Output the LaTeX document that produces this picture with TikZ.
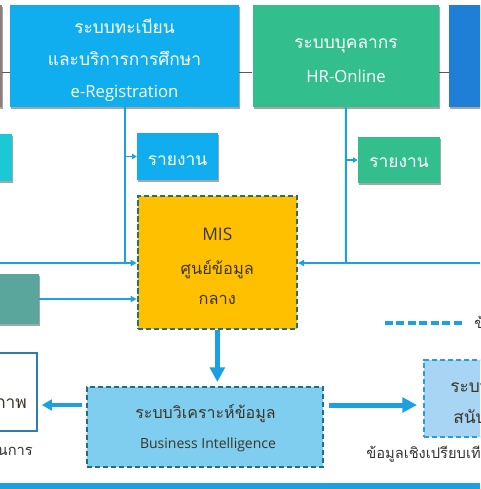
\documentclass[tikz,border=0pt]{standalone}
\usepackage{fontspec}
\setmainfont{Open Sans}
\newfontfamily\thai[Script=Thai]{Loma}
\usetikzlibrary{arrows.meta,shadows,fit}
\definecolor{regblue}{HTML}{10AEEF}
\definecolor{hrgreen}{HTML}{33BE8E}
\definecolor{topblue}{HTML}{1F7ED6}
\definecolor{mauve}{HTML}{8E7F7D}
\definecolor{cyanbox}{HTML}{1DC8D6}
\definecolor{tealbox}{HTML}{5AA69C}
\definecolor{misorange}{HTML}{FFC000}
\definecolor{dkteal}{HTML}{1F6E8C}
\definecolor{biblue}{HTML}{7FCDEF}
\definecolor{dssblue}{HTML}{A9D5F5}
\definecolor{dssborder}{HTML}{2A9FD8}
\definecolor{lineblue}{HTML}{1BA1E2}
\definecolor{wboxborder}{HTML}{2B7FA8}
\definecolor{darktext}{HTML}{3C3526}
\definecolor{greytext}{HTML}{333333}
\begin{document}
\begin{tikzpicture}[x=0.75pt,y=-0.75pt,
  box/.style={inner sep=0pt},
  shd/.style={drop shadow={shadow xshift=1pt,shadow yshift=-1.2pt,fill=black,opacity=0.35}},
  dbox/.style={inner sep=0pt,line width=1.5pt,dash pattern=on 4pt off 2pt},
  conn/.style={draw=lineblue,line width=1.5pt},
  arr/.style={conn,-{Triangle[length=4.5pt,width=4.5pt]}},
  smallarr/.style={draw=lineblue,line width=1pt,-{Triangle[length=3.5pt,width=4pt]}},
  bigarr/.style={draw=lineblue,line width=3.75pt,-{Triangle[length=11pt,width=11pt]}},
  medarr/.style={draw=lineblue,line width=3pt,-{Triangle[length=7.5pt,width=8pt]}},
  gline/.style={draw=gray!70!black,line width=0.6pt},
  legendline/.style={draw=lineblue,line width=3pt,dash pattern=on 6pt off 2.6pt},
  thbig/.style={font={\thai\fontsize{13pt}{15pt}\selectfont},anchor=base,inner sep=0pt},
  thmis/.style={font={\thai\fontsize{12.3pt}{15pt}\selectfont},anchor=base,inner sep=0pt},
  thmid/.style={font={\thai\fontsize{12pt}{14pt}\selectfont},anchor=base,inner sep=0pt},
  thsmall/.style={font={\thai\fontsize{11pt}{13pt}\selectfont},anchor=base,inner sep=0pt},
  labig/.style={font={\fontsize{12.5pt}{15pt}\selectfont},anchor=base,inner sep=0pt},
  lasmall/.style={font={\fontsize{10.5pt}{13pt}\selectfont},anchor=base,inner sep=0pt},
]
\useasboundingbox (0,0) rectangle (480,489);
\clip (0,0) rectangle (480,489);

% top boxes
\node[box,fill=mauve,shd,fit={(-60,5)(1.5,107)}] (lft1) {};
\node[box,fill=regblue,shd,fit={(10,5)(239,107)}] (reg) {};
\node[box,fill=hrgreen,shd,fit={(252.7,5)(439,107)}] (hr) {};
\node[box,fill=topblue,shd,fit={(449,5)(540,107)}] (rgt1) {};
\coordinate (gy) at (0,72);
\draw[gline] (lft1.east |- gy) -- (reg.west |- gy);
\draw[gline] (reg.east |- gy) -- (hr.west |- gy);
\draw[gline] (hr.east |- gy) -- (rgt1.west |- gy);

\node[thbig,text=white] (reg1) at (124.5,33) {ระบบทะเบียน};
\node[thbig,text=white] (reg2) at (124.5,65) {และบริการการศึกษา};
\node[labig,text=white] (reg3) at (124.5,97) {e-Registration};
\node[thbig,text=white] (hr1) at (346,48) {ระบบบุคลากร};
\node[labig,text=white] (hr2) at (346,82) {HR-Online};

% report boxes and side boxes
\node[box,fill=cyanbox,shd,fit={(-60,134)(12,181)}] (cyan) {};
\node[box,fill=regblue,shd,fit={(137,133)(218,180)}] (rep1) {};
\node[thbig,text=white] (rep1t) at (177.5,165) {รายงาน};
\node[box,fill=hrgreen,shd,fit={(358,137)(440,183)}] (rep2) {};
\node[thbig,text=white] (rep2t) at (399,167) {รายงาน};
\node[box,fill=tealbox,shd,fit={(-60,274)(39,324)}] (teal) {};

% MIS
\node[dbox,fill=misorange,draw=dkteal,fit={(137.7,196)(297,329)}] (mis) {};
\node[labig,text=darktext,font={\fontsize{13pt}{15pt}\selectfont}] (mis1) at (217.3,240) {MIS};
\node[thmis,text=darktext] (mis2) at (217.3,274) {ศูนย์ข้อมูล};
\node[thmis,text=darktext] (mis3) at (217.3,304) {กลาง};

% connectors into MIS
\coordinate (jL) at (124.5,263);
\coordinate (jR) at (346,263);
\coordinate (inL) at (0,263);
\coordinate (inR) at (480,263);
\draw[conn] (reg.south) -- (jL);
\draw[arr] (inL) -- (inL -| mis.west);
\draw[smallarr] (reg.south |- rep1.west) -- (rep1.west);
\draw[conn] (hr.south) -- (jR);
\draw[arr] (inR) -- (inR -| mis.east);
\draw[smallarr] (hr.south |- rep2.west) -- (rep2.west);
\draw[arr] (teal.east) -- (teal.east -| mis.west);

% legend
\coordinate (lg1) at (385,323);
\coordinate (lg2) at (462,323);
\draw[legendline] (lg1) -- (lg2);
\node[thsmall,anchor=base west,text=greytext] (lgt) at (474,328) {ข้อมูล};

% BI
\node[dbox,fill=biblue,draw=dkteal,fit={(87,387)(323,467)}] (bi) {};
\node[thmid,text=darktext] (bi1) at (205.5,418) {ระบบวิเคราะห์ข้อมูล};
\node[lasmall,text=darktext] (bi2) at (208,448) {Business Intelligence};
\draw[bigarr,shorten >=3pt] (mis.south) -- (mis.south |- bi.north);

% left white box
\node[box,fill=white,draw=wboxborder,line width=1.2pt,fit={(-60,353)(37,431)}] (wbox) {};
\node[thbig,anchor=base east,text=darktext] (wbt) at (27,408) {คุณภาพ};
\node[thsmall,anchor=base east,text=greytext] (wbl) at (33,455) {ดำเนินการ};

% DSS box
\node[dbox,fill=dssblue,draw=dssborder,fit={(424,360)(540,437)}] (dss) {};
\node[thbig,anchor=base west,text=darktext] (dss1) at (450,392) {ระบบ};
\node[thbig,anchor=base west,text=darktext] (dss2) at (453,423) {สนับสนุน};
\node[thsmall,anchor=base west,text=greytext] (dssl) at (366,458) {ข้อมูลเชิงเปรียบเทียบ};

\coordinate (ya) at (0,405);
\draw[medarr,shorten <=3pt,shorten >=3pt] (bi.west |- ya) -- (wbox.east |- ya);
\draw[bigarr,shorten <=3.75pt,shorten >=4.5pt] (bi.east |- ya) -- (dss.west |- ya);

% bottom bar
\fill[lineblue] (0,483) rectangle (480,489);
\end{tikzpicture}
\end{document}
